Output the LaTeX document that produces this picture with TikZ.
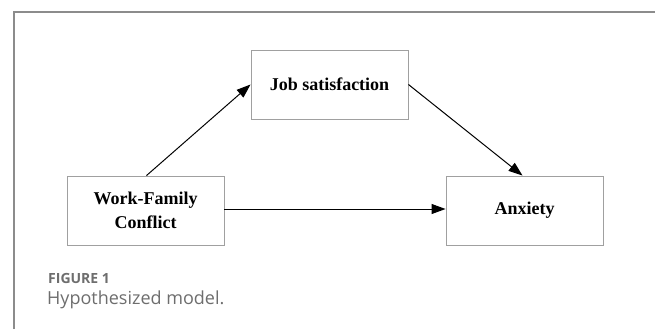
\documentclass[tikz,border=0pt]{standalone}
\usepackage{fontspec}
\setmainfont{Liberation Serif}
\newfontfamily\capfont{Open Sans}
\usetikzlibrary{arrows.meta}
\definecolor{boxgray}{HTML}{A0A0A0}
\definecolor{framegray}{HTML}{8C8C8C}
\definecolor{capgray}{HTML}{6E6E6E}
\begin{document}
\begin{tikzpicture}[x=1pt,y=-1pt,
  modelbox/.style={draw=boxgray, line width=0.9pt, minimum width=157pt, minimum height=69pt, inner sep=0pt, align=center, font=\fontsize{18}{24}\selectfont\bfseries},
  modelarrow/.style={draw=black, line width=1pt, -{Triangle[length=14pt,width=10pt]}}]
\useasboundingbox (0,0) rectangle (655,329);
\fill[white] (0,0) rectangle (655,329);
\draw[framegray, line width=1.5pt] (14,329) -- (14,12) -- (655,12);
\node[modelbox] (wfc) at (145.5,210.5) {Work-Family\\Conflict};
\node[modelbox] (job) at (329.5,84.5) {Job satisfaction};
\node[modelbox] (anx) at (524.5,210.5) {Anxiety};
\draw[modelarrow] (wfc.north) ++(1,0) coordinate (s1) -- (job.west);
\draw[modelarrow] (job.east) -- ([xshift=-2pt]anx.north);
\draw[modelarrow] ([yshift=1.5pt]wfc.east) -- ([yshift=1.5pt]anx.west);
\node[anchor=base west, inner sep=0pt, text=capgray, font=\capfont\bfseries\fontsize{14}{16}\selectfont] (fig) at (48,283) {FIGURE 1};
\node[anchor=base west, inner sep=0pt, text=capgray, font=\capfont\fontsize{18}{20}\selectfont] (cap) at (47,304) {Hypothesized model.};
\end{tikzpicture}
\end{document}
